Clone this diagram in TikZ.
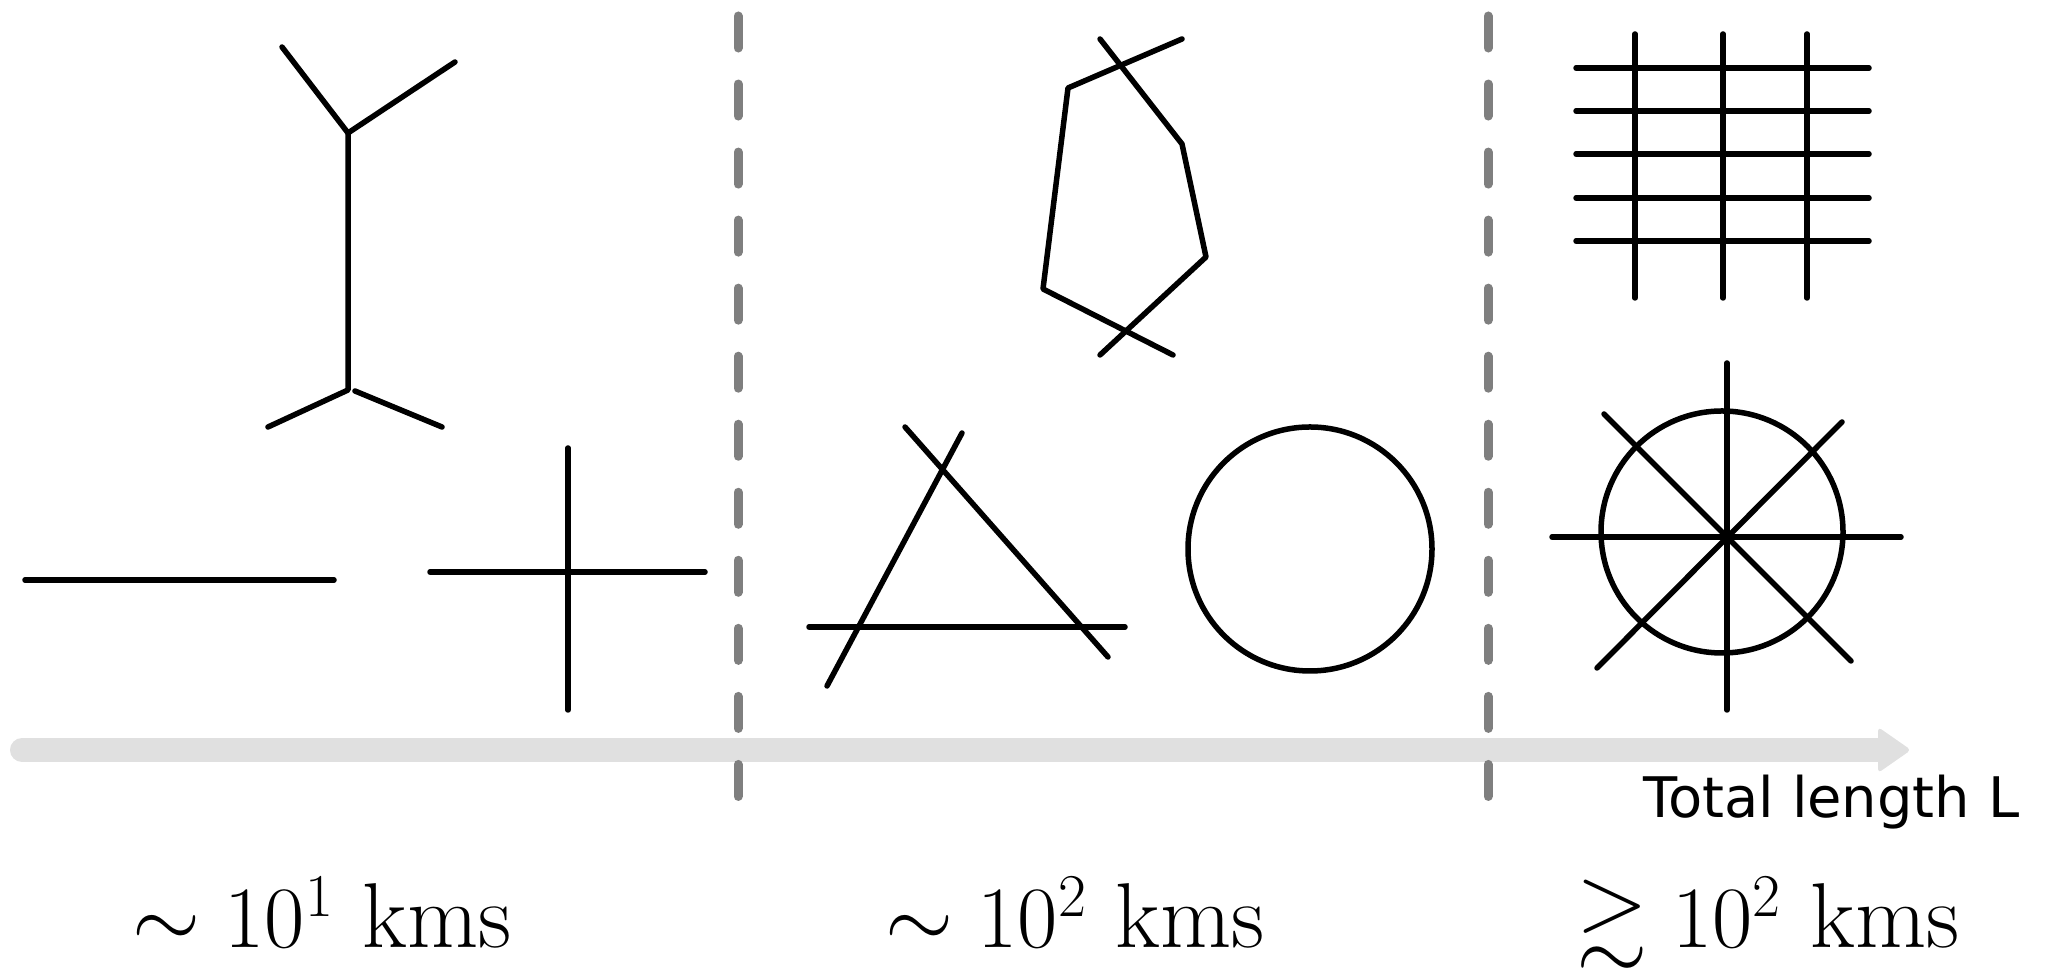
\documentclass[tikz,border=0pt]{standalone}
\usepackage{amssymb}
\usepackage{fontspec}
\newfontfamily\labelfont{DejaVu Sans}
\usetikzlibrary{arrows.meta}
\definecolor{bandgray}{HTML}{E0E0E0}
\definecolor{dashgray}{HTML}{7F7F7F}
\tikzset{
  shapeline/.style={draw=black, line width=0.055cm, line cap=round, line join=round},
  divider/.style={draw=dashgray, line width=0.09cm, line cap=round, dash pattern=on 0.32cm off 0.36cm},
  scalelabel/.style={inner sep=0pt, anchor=base, font=\fontsize{26.2}{31}\selectfont},
  axislabel/.style={inner sep=0pt, anchor=base west, font=\labelfont\fontsize{15.9}{19}\selectfont}
}
\begin{document}
\begin{tikzpicture}[x=0.01cm, y=-0.01cm]
\useasboundingbox (0,0) rectangle (2048,968);

% axis band
\draw[draw=bandgray, line width=0.24cm, line cap=round] (22,750) -- (1885,750);
\fill[bandgray, rounded corners=0.04cm] (1878,727) -- (1911,750) -- (1878,773) -- cycle;

% dividers
\draw[divider] (738,16) -- (738,798);
\draw[divider] (1488,16) -- (1488,798);

% ~10^1: line
\draw[shapeline] (25,580) -- (334,580);
% cross
\draw[shapeline] (430,572) -- (705,572);
\draw[shapeline] (568,448) -- (568,710);
% Y-shape
\draw[shapeline] (282,47) -- (348,133) -- (455,62);
\draw[shapeline] (348,133) -- (348,390) -- (268,427);
\draw[shapeline] (355,391) -- (442,427);

% ~10^2: loop
\draw[shapeline] (1100,39) -- (1182,144) -- (1206,257) -- (1100,355);
\draw[shapeline] (1182,39) -- (1068,88) -- (1043,289) -- (1173,355);
% triangle
\draw[shapeline] (809,627) -- (1125,627);
\draw[shapeline] (905,427) -- (1108,657);
\draw[shapeline] (962,433) -- (827,686);
% circle
\draw[shapeline] (1310,549) circle[radius=122];

% >~10^2: grid
\foreach \yy in {68,111,154,198,241}
  \draw[shapeline] (1576,\yy) -- (1869,\yy);
\foreach \xx in {1635,1723,1807}
  \draw[shapeline] (\xx,34) -- (\xx,298);
% wheel
\draw[shapeline] (1722,532) circle[radius=121];
\draw[shapeline] (1727,363) -- (1727,710);
\draw[shapeline] (1552,537) -- (1901,537);
\draw[shapeline] (1604,414) -- (1851,661);
\draw[shapeline] (1842,422) -- (1597,668);

% labels
\node[axislabel] (axis) at (1643,818) {Total length L};
\node[scalelabel] (s1) at (322,948) {$\sim 10^1$ kms};
\node[scalelabel] (s2) at (1075,948) {$\sim 10^2$ kms};
\node[scalelabel] (s3) at (1768,948) {$\gtrsim 10^2$ kms};
\end{tikzpicture}
\end{document}
